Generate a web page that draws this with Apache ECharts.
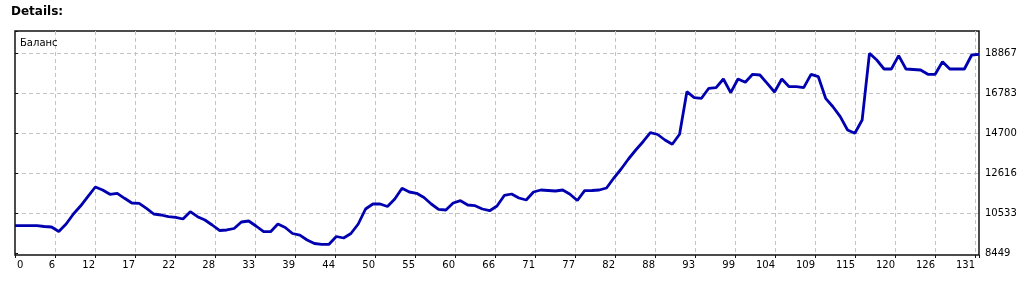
<!DOCTYPE html>
<html>
<head>
<meta charset="utf-8">
<script src="https://cdn.jsdelivr.net/npm/echarts@6/dist/echarts.min.js"></script>
<style>
  html, body { margin: 0; padding: 0; background: #fff; }
  #main { width: 1027px; height: 284px; }
</style>
</head>
<body>
<div id="main"></div>
<script>
// balance curve, one value per closed trade
var xTicks = ['0', '6', '12', '17', '22', '28', '33', '39', '44', '50', '55', '60', '66',
  '71', '77', '82', '88', '93', '99', '104', '109', '115', '120', '126', '131'];
var yTicks = [8449, 10533, 12616, 14700, 16783, 18867];
var balance = [
  9887, 9887, 9887, 9887, 9845, 9819, 9585, 9975, 10496, 10923,
  11413, 11903, 11746, 11522, 11574, 11314, 11069, 11054, 10793, 10496,
  10444, 10355, 10324, 10236, 10616, 10355, 10184, 9923, 9637, 9663,
  9741, 10079, 10132, 9871, 9585, 9574, 9975, 9793, 9480, 9392,
  9142, 8959, 8918, 8918, 9324, 9246, 9480, 9975, 10757, 11017,
  11017, 10887, 11277, 11835, 11642, 11574, 11356, 11017, 10741, 10704,
  11069, 11189, 10965, 10928, 10757, 10668, 10913, 11460, 11538, 11330,
  11225, 11642, 11746, 11720, 11694, 11746, 11522, 11199, 11710, 11720,
  11746, 11850, 12371, 12840, 13361, 13830, 14262, 14731, 14637, 14351,
  14127, 14648, 16867, 16554, 16523, 17044, 17075, 17528, 16815, 17528,
  17356, 17773, 17737, 17304, 16851, 17528, 17127, 17127, 17075, 17773,
  17648, 16523, 16085, 15565, 14872, 14700, 15393, 18867, 18518, 18049,
  18049, 18742, 18049, 18023, 17997, 17773, 17773, 18429, 18049, 18049,
  18049, 18778, 18815
];

var font = 'DejaVu Sans';
var gridDash = { color: '#c4c4c4', type: [4, 3], width: 1 };

// plot box 964 x 224 px, grid lines every 40 px
var xMax = balance.length - 1;
var xInterval = xMax * 40 / 964;
var yStep = (yTicks[5] - yTicks[0]) / 5;
var yMin = yTicks[0] - yStep * 1.7 / 40;
var yMax = yTicks[5] + yStep * 22.3 / 40;

function xLabel(v) {
  var k = Math.round(v / xInterval);
  if (Math.abs(v - k * xInterval) > 1e-6 || k < 1 || k >= xTicks.length) return '';
  return xTicks[k];
}

var chart = echarts.init(document.getElementById('main'));
chart.setOption({
  animation: false,
  backgroundColor: '#fff',
  title: [
    { text: 'Details:', left: 11, top: 6, padding: 0,
      textStyle: { fontFamily: font, fontSize: 12, fontWeight: 'bold', color: '#000' } },
    { text: 'Баланс', left: 20, top: 38, padding: 0,
      textStyle: { fontFamily: font, fontSize: 10, fontWeight: 'normal', color: '#000' } }
  ],
  grid: [
    { left: 15, right: 48, top: 31, bottom: 29, show: true,
      borderColor: '#111', borderWidth: 1.5, backgroundColor: 'transparent' },
    { left: 15, right: 48, top: 31, bottom: 30.7, show: false }
  ],
  xAxis: [
    { type: 'value', gridIndex: 0, min: 0, max: xMax, interval: xInterval,
      axisLine: { show: false },
      axisTick: { show: true, length: 3, lineStyle: { color: '#111' } },
      axisLabel: { formatter: xLabel, align: 'right', margin: 5,
        fontFamily: font, fontSize: 10, color: '#000' },
      splitLine: { show: true, showMinLine: false, showMaxLine: false, lineStyle: gridDash } },
    { type: 'value', gridIndex: 0, position: 'bottom', min: 0, max: xMax, interval: xInterval,
      axisLine: { show: false }, axisTick: { show: false }, splitLine: { show: false },
      axisLabel: { formatter: function (v) { return v === 0 ? xTicks[0] : ''; },
        align: 'left', margin: 5, padding: [0, 0, 0, 2],
        fontFamily: font, fontSize: 10, color: '#000' } },
    { type: 'value', gridIndex: 1, show: false, min: 0, max: xMax }
  ],
  yAxis: [
    { type: 'value', gridIndex: 0, position: 'right', min: yMin, max: yMax,
      axisLine: { show: false }, axisTick: { show: false },
      axisLabel: { show: false }, splitLine: { show: false } },
    { type: 'value', gridIndex: 1, position: 'right', min: 0, max: 5 + 22.3 / 40, interval: 1,
      axisLine: { show: false },
      axisTick: { show: true, length: 3, lineStyle: { color: '#111' } },
      axisLabel: {
        formatter: function (v) { return v === Math.round(v) && v <= 5 ? String(yTicks[v]) : ''; },
        margin: 6, fontFamily: font, fontSize: 10, color: '#000' },
      splitLine: { show: true, showMinLine: false, showMaxLine: false, lineStyle: gridDash } }
  ],
  series: [{
    type: 'line',
    xAxisIndex: 0,
    yAxisIndex: 0,
    showSymbol: false,
    data: balance.map(function (v, i) { return [i, v]; }),
    lineStyle: { color: '#0000b0', width: 2.8 }
  }]
});
</script>
</body>
</html>
